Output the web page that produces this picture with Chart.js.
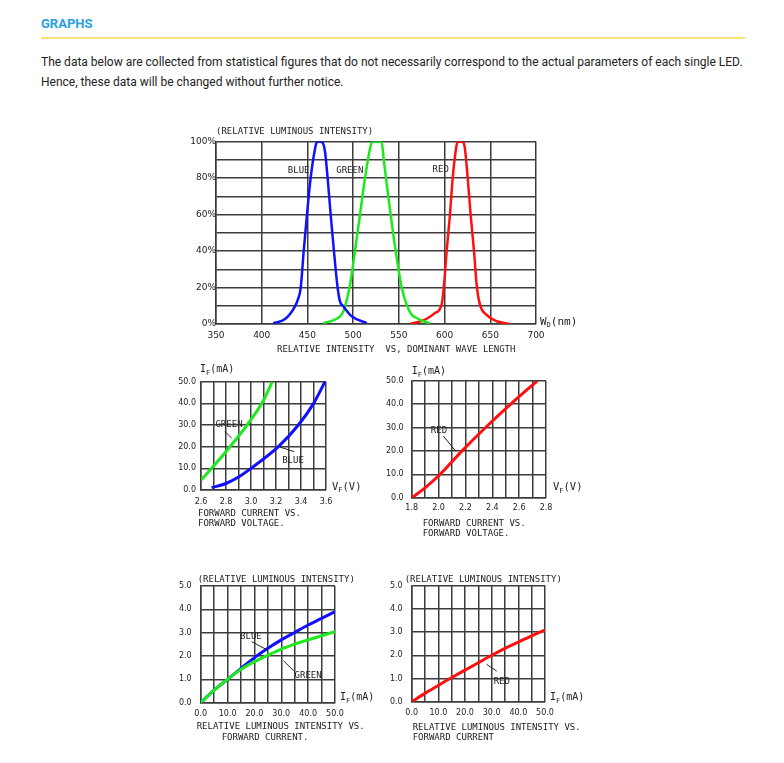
<!DOCTYPE html>
<html lang="en">
<head>
<meta charset="UTF-8">
<title>Graphs</title>
<script src="https://cdn.jsdelivr.net/npm/chart.js"></script>
<style>
  body { margin: 0; background: #fff; width: 784px; height: 763px; position: relative; overflow: hidden; }
  .heading { position: absolute; left: 41px; top: 16px; margin: 0; font: 700 13px Roboto, sans-serif; line-height: 16px; color: #2a9fe0; }
  .rule { position: absolute; left: 41px; top: 37px; width: 704px; height: 2px; background: #fbe07c; }
  .intro { position: absolute; left: 41px; top: 52px; margin: 0; font: 12px Roboto, sans-serif; line-height: 20px; color: #222; white-space: nowrap; }
  canvas { position: absolute; }
</style>
</head>
<body>
<h2 class="heading">GRAPHS</h2>
<div class="rule"></div>
<p class="intro">The data below are collected from statistical figures that do not necessarily correspond to the actual parameters of each single LED.<br>Hence, these data will be changed without further notice.</p>

<canvas id="spectrumChart" width="460" height="245" style="left:150px;top:118px"></canvas>
<canvas id="ivBlueGreenChart" width="220" height="180" style="left:160px;top:355px"></canvas>
<canvas id="ivRedChart" width="230" height="190" style="left:370px;top:355px"></canvas>
<canvas id="lumBlueGreenChart" width="220" height="190" style="left:165px;top:565px"></canvas>
<canvas id="lumRedChart" width="220" height="190" style="left:375px;top:565px"></canvas>

<script>
// --- relative intensity vs dominant wavelength (nm, %) ---
const blueWl  = [412.7, 425.5, 436.4, 440, 442.6, 445.9, 449.5, 453.5, 458.3, 460.1, 463, 466.3, 469.2, 472.1, 475.4, 479, 483, 485.6, 489.3, 498.4, 514.8];
const blueRel = [0.5, 2.7, 9.7, 14, 19.7, 39.8, 59.9, 79.9, 96, 99.5, 100, 99.5, 94.5, 80, 60, 40, 20, 12.4, 9.7, 4.2, 0.5];
const greenWl  = [467.4, 480.2, 487.4, 491.1, 496.6, 502, 507.5, 513, 518.4, 520.5, 526, 531.2, 533.5, 535.9, 541, 546.5, 553.1, 558.5, 564, 569.5, 576.8, 584];
const greenRel = [0.5, 2.4, 5.1, 9.5, 21.5, 40, 60, 80, 96, 99.5, 100, 99.5, 90, 80, 60, 40, 20, 10.6, 5.1, 3.3, 1.5, 0.5];
const redWl  = [562.2, 578.6, 589.5, 596.8, 599.4, 602.3, 605.9, 608.9, 612.5, 614, 617.3, 620.5, 622.3, 625.3, 628.5, 632.2, 635.1, 638.7, 646, 657, 671.6];
const redRel = [0, 2.4, 6, 10.6, 21.5, 40, 60, 80, 96, 99.5, 100, 99.5, 96, 80, 60, 40, 21.5, 10.6, 5, 1.5, 0];

// --- forward current vs forward voltage (V, mA) ---
const greenVf = [2.6, 2.685, 2.832, 2.968, 3.087, 3.171];
const greenIf = [4.6, 10, 20, 30, 40, 50];
const blueVf = [2.685, 2.8, 2.9, 3.0, 3.219, 3.379, 3.501, 3.592];
const blueIf = [1.1, 3.0, 6.0, 10, 20, 30, 40, 50];
const redVf = [1.8, 1.895, 2.012, 2.175, 2.35, 2.537, 2.737];
const redIf = [0, 4, 10, 20, 30, 40, 50];

// --- relative luminous intensity vs forward current (mA, rel.) ---
const currentMa = [0, 5, 10, 15, 20, 25, 30, 35, 40, 45, 50];
const blueLum  = [0, 0.54, 1.0, 1.47, 1.93, 2.33, 2.69, 3.01, 3.33, 3.61, 3.9];
const greenLum = [0, 0.54, 1.0, 1.43, 1.76, 2.04, 2.3, 2.51, 2.69, 2.87, 3.04];
const redLum   = [0, 0.36, 0.7, 1.04, 1.36, 1.68, 2.0, 2.3, 2.57, 2.84, 3.09];

const BLUE = '#1010ff', GREEN = '#1ee81e', RED = '#ff1010';
const INK = '#222';
const GRID = '#3c3c3c';
const MONO = '"DejaVu Sans Mono", monospace';

function pairs(xs, ys) {
  return xs.map((v, i) => ({ x: v, y: ys[i] }));
}

// text with an optional one-letter subscript after "_"
function drawLabel(ctx, str, x, y, align, size) {
  size = size || 9;
  const parts = [];
  const i = str.indexOf('_');
  if (i < 0) parts.push([str, false]);
  else parts.push([str.slice(0, i), false], [str[i + 1], true], [str.slice(i + 2), false]);
  const big = size + 'px ' + MONO, small = '7px ' + MONO;
  let total = 0;
  parts.forEach(p => { ctx.font = p[1] ? small : big; total += ctx.measureText(p[0]).width; });
  let cx = align === 'center' ? x - total / 2 : x;
  ctx.textAlign = 'left';
  ctx.textBaseline = 'middle';
  parts.forEach(p => {
    ctx.font = p[1] ? small : big;
    ctx.fillText(p[0], cx, p[1] ? y + 3 : y);
    cx += ctx.measureText(p[0]).width;
  });
}

const notesPlugin = {
  id: 'notes',
  afterDraw(chart, args, opts) {
    const { ctx, chartArea: a, scales: { x, y } } = chart;
    ctx.save();
    ctx.fillStyle = INK;
    ctx.strokeStyle = INK;
    ctx.lineWidth = 1;
    (opts.lines || []).forEach(l => {
      ctx.beginPath();
      ctx.moveTo(x.getPixelForValue(l[0]), y.getPixelForValue(l[1]));
      ctx.lineTo(x.getPixelForValue(l[2]), y.getPixelForValue(l[3]));
      ctx.stroke();
    });
    (opts.tags || []).forEach(t => {
      drawLabel(ctx, t[0], x.getPixelForValue(t[1]), y.getPixelForValue(t[2]), 'center');
    });
    (opts.captions || []).forEach(c => {
      drawLabel(ctx, c[0], a[c[1]] + c[2], a[c[3]] + c[4], 'left', c[5]);
    });
    ctx.restore();
  }
};

function buildChart(id, cfg) {
  const canvas = document.getElementById(id);
  const w = canvas.width, h = canvas.height;
  const area = cfg.area;
  const tickFont = { family: 'DejaVu Sans', size: cfg.tickSize || 8 };
  return new Chart(canvas, {
    type: 'scatter',
    data: {
      datasets: cfg.series.map(s => ({
        data: pairs(s.x, s.y),
        showLine: true,
        borderColor: s.color,
        borderWidth: cfg.lineWidth || 3,
        pointRadius: 0,
        cubicInterpolationMode: 'monotone'
      }))
    },
    options: {
      responsive: false,
      animation: false,
      events: [],
      layout: { padding: { left: 0, top: area.top, right: w - area.right, bottom: 0 } },
      plugins: {
        legend: { display: false },
        tooltip: { enabled: false },
        notes: cfg.notes
      },
      scales: {
        x: {
          type: 'linear',
          min: cfg.xMin, max: cfg.xMax,
          afterFit: s => { s.height = h - area.bottom; },
          grid: { color: GRID, lineWidth: 1.5, drawTicks: false },
          border: { color: GRID, width: 1.5 },
          ticks: {
            stepSize: cfg.xStep, autoSkip: false, maxRotation: 0,
            padding: cfg.xPad, color: INK, font: tickFont,
            callback: cfg.xLabel
          }
        },
        y: {
          type: 'linear',
          min: cfg.yMin, max: cfg.yMax,
          afterFit: s => { s.width = area.left; },
          grid: { color: GRID, lineWidth: 1.5, drawTicks: false },
          border: { color: GRID, width: 1.5 },
          ticks: {
            stepSize: cfg.yStep, autoSkip: false,
            padding: cfg.yPad, color: INK, font: tickFont,
            callback: cfg.yLabel
          }
        }
      }
    },
    plugins: [notesPlugin]
  });
}

const oneDecimal = v => v.toFixed(1);
const evenTenths = v => (Math.round(v * 10) % 2 === 0 ? v.toFixed(1) : '');
const tensOnly = v => (Math.round(v) % 10 === 0 ? v.toFixed(1) : '');

buildChart('spectrumChart', {
  area: { left: 66, top: 23.5, right: 386, bottom: 206 },
  xMin: 350, xMax: 700, xStep: 50, yMin: 0, yMax: 100, yStep: 10,
  xPad: 6, yPad: 0, tickSize: 9, lineWidth: 2.5,
  xLabel: v => String(v),
  yLabel: v => (v % 20 === 0 ? v + '%' : ''),
  series: [
    { x: blueWl, y: blueRel, color: BLUE },
    { x: greenWl, y: greenRel, color: GREEN },
    { x: redWl, y: redRel, color: RED }
  ],
  notes: {
    tags: [['BLUE', 440.4, 84.2], ['GREEN', 496.3, 84.2], ['RED', 595.8, 84.7]],
    captions: [
      ['(RELATIVE LUMINOUS INTENSITY)', 'left', 0, 'top', -9.5],
      ['W_D(nm)', 'right', 4, 'bottom', -2, 11],
      ['RELATIVE INTENSITY  VS, DOMINANT WAVE LENGTH', 'left', 61, 'bottom', 26]
    ]
  }
});

buildChart('ivBlueGreenChart', {
  area: { left: 41, top: 26.7, right: 166, bottom: 135 },
  xMin: 2.6, xMax: 3.6, xStep: 0.1, yMin: 0, yMax: 50, yStep: 10,
  xPad: 7, yPad: 5,
  xLabel: evenTenths, yLabel: oneDecimal,
  series: [
    { x: greenVf, y: greenIf, color: GREEN },
    { x: blueVf, y: blueIf, color: BLUE }
  ],
  notes: {
    tags: [['GREEN', 2.824, 30.1], ['BLUE', 3.336, 13.4]],
    lines: [[2.792, 27, 2.845, 23.9], [3.232, 19.8, 3.346, 17.7]],
    captions: [
      ['I_F(mA)', 'left', -1, 'top', -12, 10],
      ['V_F(V)', 'right', 6, 'bottom', -3, 10.5],
      ['FORWARD CURRENT VS.', 'left', -3, 'bottom', 24],
      ['FORWARD VOLTAGE.', 'left', -3, 'bottom', 33.5]
    ]
  }
});

buildChart('ivRedChart', {
  area: { left: 41.7, top: 25.7, right: 176, bottom: 142.7 },
  xMin: 1.8, xMax: 2.8, xStep: 0.1, yMin: 0, yMax: 50, yStep: 10,
  xPad: 5, yPad: 8,
  xLabel: evenTenths, yLabel: oneDecimal,
  series: [{ x: redVf, y: redIf, color: RED }],
  notes: {
    tags: [['RED', 2.003, 28.5]],
    lines: [[2.035, 26.4, 2.13, 19.7]],
    captions: [
      ['I_F(mA)', 'left', 0, 'top', -9, 10],
      ['V_F(V)', 'right', 7, 'bottom', -10, 10.5],
      ['FORWARD CURRENT VS.', 'left', 11, 'bottom', 25.5],
      ['FORWARD VOLTAGE.', 'left', 11, 'bottom', 35.5]
    ]
  }
});

buildChart('lumBlueGreenChart', {
  area: { left: 35.7, top: 21, right: 170, bottom: 137.7 },
  xMin: 0, xMax: 50, xStep: 5, yMin: 0, yMax: 5, yStep: 1,
  xPad: 6.5, yPad: 9,
  xLabel: tensOnly, yLabel: oneDecimal,
  series: [
    { x: currentMa, y: greenLum, color: GREEN },
    { x: currentMa, y: blueLum, color: BLUE }
  ],
  notes: {
    tags: [['BLUE', 18.7, 2.81], ['GREEN', 40, 1.14]],
    lines: [[19.0, 2.61, 24.8, 2.26], [30.8, 1.8, 34.7, 1.36]],
    captions: [
      ['(RELATIVE LUMINOUS INTENSITY)', 'left', -3, 'top', -6],
      ['I_F(mA)', 'right', 5, 'bottom', -5, 10],
      ['RELATIVE LUMINOUS INTENSITY VS.', 'left', -4, 'bottom', 24],
      ['FORWARD CURRENT.', 'left', 21, 'bottom', 35]
    ]
  }
});

buildChart('lumRedChart', {
  area: { left: 36.7, top: 20.7, right: 170, bottom: 136.7 },
  xMin: 0, xMax: 50, xStep: 5, yMin: 0, yMax: 5, yStep: 1,
  xPad: 6.5, yPad: 9,
  xLabel: tensOnly, yLabel: oneDecimal,
  series: [{ x: currentMa, y: redLum, color: RED }],
  notes: {
    tags: [['RED', 33.8, 0.86]],
    lines: [[28.1, 1.61, 31.9, 1.32]],
    captions: [
      ['(RELATIVE LUMINOUS INTENSITY)', 'left', -7, 'top', -6],
      ['I_F(mA)', 'right', 5, 'bottom', -4, 10],
      ['RELATIVE LUMINOUS INTENSITY VS.', 'left', 1, 'bottom', 25.5],
      ['FORWARD CURRENT', 'left', 1, 'bottom', 36]
    ]
  }
});
</script>
</body>
</html>
